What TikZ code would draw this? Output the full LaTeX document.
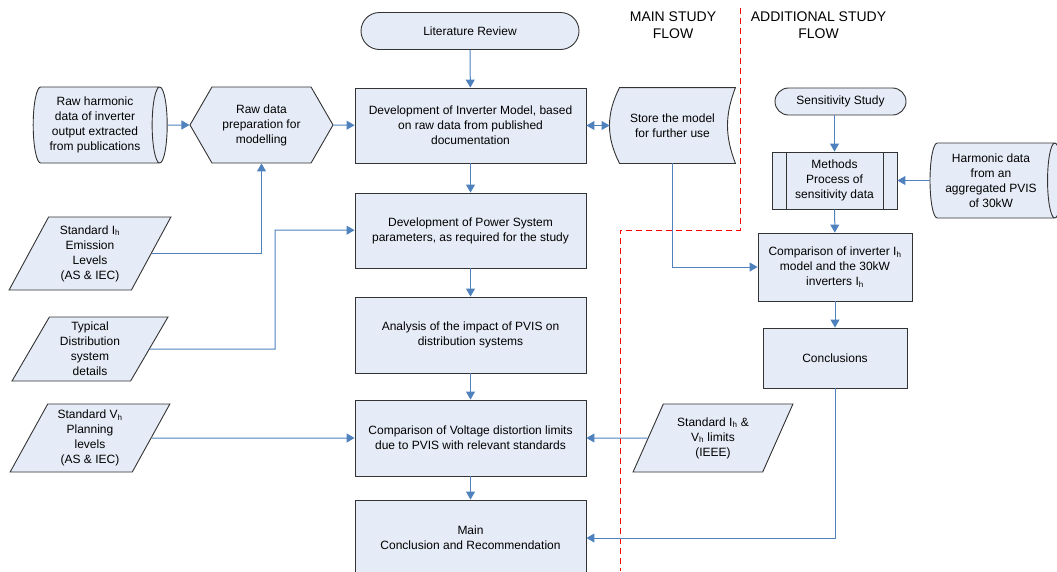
\documentclass[tikz,border=0pt]{standalone}
\usepackage{fontspec}
\setmainfont{Liberation Sans}
\usetikzlibrary{arrows.meta,shapes.geometric,shapes.misc,shapes.symbols,backgrounds}
\definecolor{boxfill}{RGB}{230,236,247}
\definecolor{linkblue}{RGB}{79,129,189}

\begin{document}
\begin{tikzpicture}[x=1pt, y=-1pt,
	base/.style={draw=black!80, line width=0.9pt, fill=boxfill, align=center, inner sep=2pt, font=\fontsize{12}{15}\selectfont},
	proc/.style={base, rectangle, minimum width=231pt},
	term/.style={base, rounded rectangle},
	iobox/.style={base, trapezium, trapezium left angle=63, trapezium right angle=117, trapezium stretches=true},
	drum/.style={base, cylinder, shape border rotate=0, aspect=0.25, cylinder uses custom fill, cylinder body fill=boxfill, cylinder end fill=boxfill},
	prepbox/.style={base, signal, signal to=east and west, signal pointer angle=120},
	heading/.style={align=center, font=\fontsize{14}{17}\selectfont},
	seta/.style={-{Triangle[width=9pt,length=8pt]}, draw=linkblue, line width=1pt},
	seta2/.style={{Triangle[width=9pt,length=8pt]}-{Triangle[width=9pt,length=8pt]}, draw=linkblue, line width=1pt},
	limite/.style={draw=red, line width=1pt, dash pattern=on 6pt off 4pt}
	]
	\useasboundingbox (0,0) rectangle (1057,571);

	\node[term, minimum width=222pt, minimum height=37pt] (lit) at (470,31) {Literature Review};
	\node[proc, minimum height=75pt] (devinv) at (470.5,125.5) {Development of Inverter Model, based\\on raw data from published\\documentation};
	\node[proc, minimum height=75pt] (devpow) at (470.5,230.5) {Development of Power System\\parameters, as required for the study};
	\node[proc, minimum height=76pt] (anal) at (470.5,335) {Analysis of the impact of PVIS on\\distribution systems};
	\node[proc, minimum height=76pt] (cmpv) at (470.5,438) {Comparison of Voltage distortion limits\\due to PVIS with relevant standards};
	\node[proc, minimum height=76pt] (main) at (470.5,538) {Main\\Conclusion and Recommendation};

	\node[drum, minimum width=76pt, minimum height=134pt] (rawh) at (95,125) {Raw harmonic\\data of inverter\\output extracted\\from publications};
	\node[prepbox, minimum width=143pt, minimum height=76pt] (prep) at (261.5,125) {Raw data\\preparation for\\modelling};
	\node[base, draw=none, fill=none, minimum width=125pt, minimum height=75pt] (store) at (672.5,125.5) {Store the model\\for further use};
	\begin{scope}[on background layer]
		\filldraw[draw=black!80, line width=0.9pt, fill=boxfill] ([xshift=10pt]store.north west) to[bend right=27] ([xshift=10pt]store.south west) -- (store.south east) to[bend left=21] (store.north east) -- cycle;
	\end{scope}

	\node[iobox, minimum width=162pt, minimum height=73pt] (stdih) at (90,253.5) {Standard I\textsubscript{h}\\Emission\\Levels\\(AS \& IEC)};
	\node[iobox, minimum width=156pt, minimum height=64pt] (typ) at (90,349) {Typical\\Distribution\\system\\details};
	\node[iobox, minimum width=160pt, minimum height=68pt] (stdvh) at (90,438) {Standard V\textsubscript{h}\\Planning\\levels\\(AS \& IEC)};
	\node[iobox, minimum width=160pt, minimum height=68pt] (ieee) at (713,438) {Standard I\textsubscript{h} \&\\V\textsubscript{h} limits\\(IEEE)};

	\node[heading] (hmain) at (673,25) {MAIN STUDY\\FLOW};
	\node[heading] (hadd) at (818.5,25) {ADDITIONAL STUDY\\FLOW};
	\draw[limite] (740,8) -- (740,230) -- (620,230) -- (620,571);

	\node[term, minimum width=135pt, minimum height=27pt] (sens) at (840.5,101.5) {Sensitivity Study};
	\node[base, rectangle, minimum width=125pt, minimum height=57pt] (meth) at (834.5,180.5) {Methods\\Process of\\sensitivity data};
	\draw[draw=black!80, line width=0.9pt] ([xshift=15pt]meth.north west) -- ([xshift=15pt]meth.south west);
	\draw[draw=black!80, line width=0.9pt] ([xshift=-14pt]meth.north east) -- ([xshift=-14pt]meth.south east);
	\node[drum, minimum width=75pt, minimum height=132pt] (harm) at (991,180.5) {Harmonic data\\from an\\aggregated PVIS\\of 30kW};
	\node[base, rectangle, minimum width=154pt, minimum height=68pt] (cmpinv) at (835,267) {Comparison of inverter I\textsubscript{h}\\model and the 30kW\\inverters I\textsubscript{h}};
	\node[base, rectangle, minimum width=144pt, minimum height=60pt] (concl) at (835,358) {Conclusions};

	\draw[seta] (lit) -- (devinv);
	\draw[seta] (rawh) -- (prep);
	\draw[seta] (prep) -- (devinv);
	\draw[seta2] (devinv) -- (store);
	\draw[seta] (stdih) -| (prep);
	\draw[seta] (typ) -| (275,230) -- (devpow);
	\draw[seta] (devinv) -- (devpow);
	\draw[seta] (devpow) -- (anal);
	\draw[seta] (anal) -- (cmpv);
	\draw[seta] (cmpv) -- (main);
	\draw[seta] (stdvh) -- (cmpv);
	\draw[seta] (ieee) -- (cmpv);
	\draw[seta] (store) |- (cmpinv);
	\draw[seta] (sens.south -| meth.north) -- (meth);
	\draw[seta] (harm) -- (meth);
	\draw[seta] (meth) -- (cmpinv);
	\draw[seta] (cmpinv) -- (concl);
	\draw[seta] (concl) |- (main);
\end{tikzpicture}
\end{document}
